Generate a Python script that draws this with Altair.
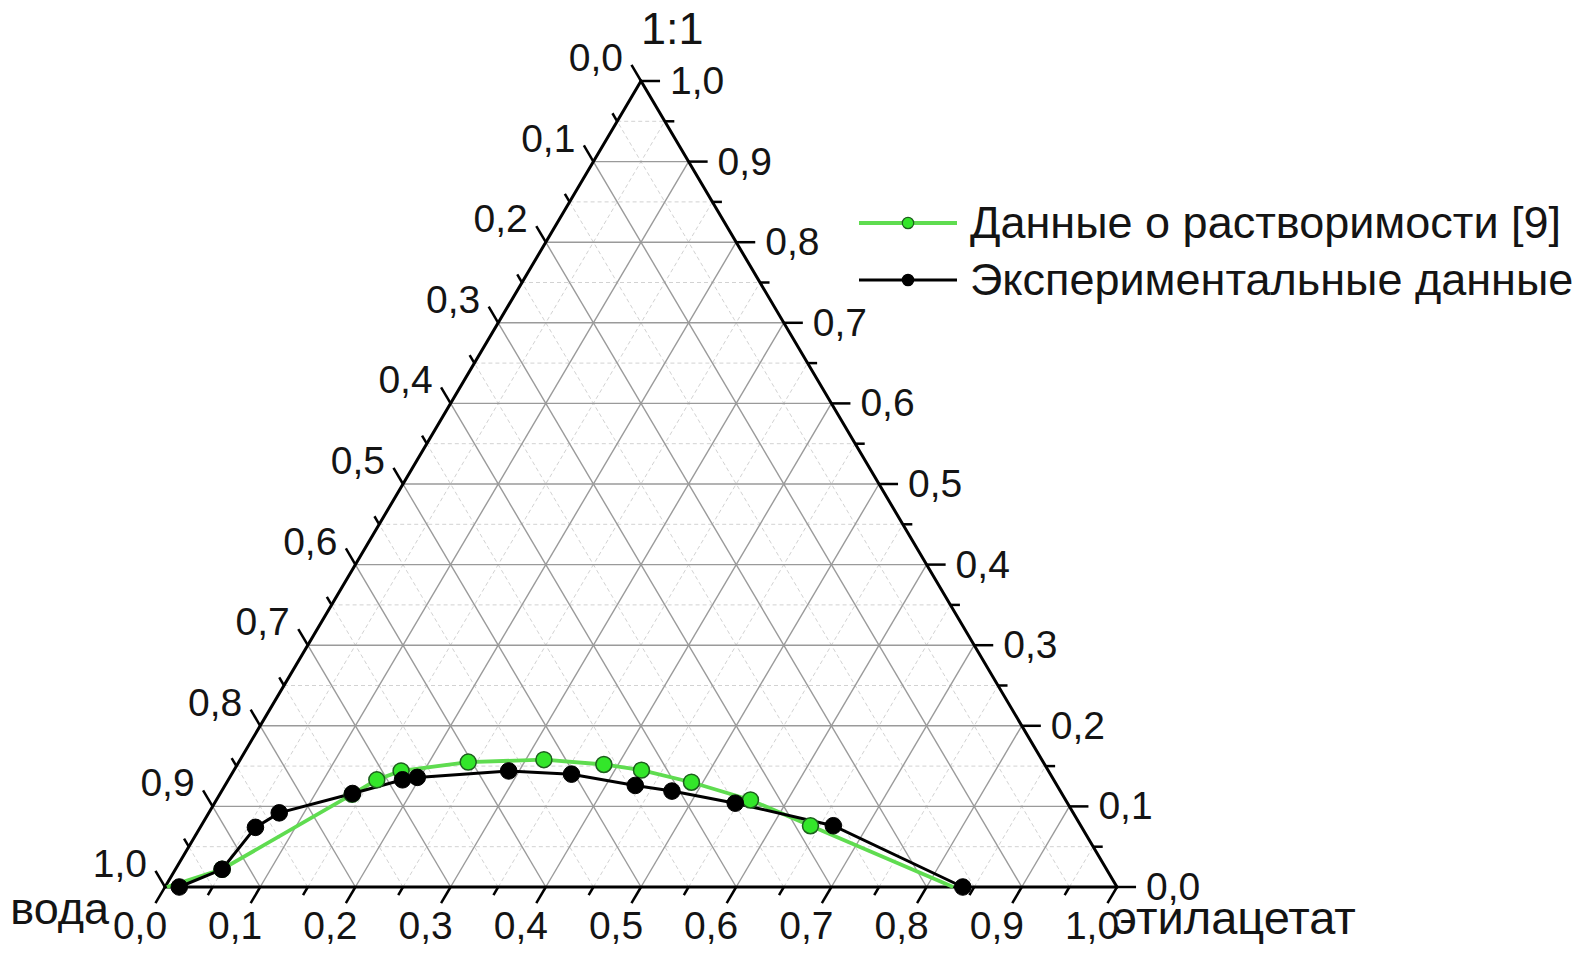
import altair as alt
import pandas as pd

FONT = "Liberation Sans"

# ---- axis ticks ----
major_values = [0.0, 0.1, 0.2, 0.3, 0.4, 0.5, 0.6, 0.7, 0.8, 0.9, 1.0]
major_labels = ["0,0", "0,1", "0,2", "0,3", "0,4", "0,5", "0,6", "0,7", "0,8", "0,9", "1,0"]
minor_values = [0.05, 0.15, 0.25, 0.35, 0.45, 0.55, 0.65, 0.75, 0.85, 0.95]

# ---- data (ternary fractions: ethyl acetate, 1:1 component) ----
green_name = "Данные о растворимости [9]"
green_ea = [0.002, 0.049, 0.139, 0.156, 0.176, 0.241, 0.319, 0.385, 0.428, 0.488, 0.561, 0.640, 0.828]
green_11 = [0.0, 0.022, 0.115, 0.133, 0.144, 0.155, 0.158, 0.152, 0.145, 0.130, 0.108, 0.076, 0.0]

black_name = "Экспериментальные данные"
black_ea = [0.015, 0.049, 0.058, 0.074, 0.139, 0.183, 0.197, 0.289, 0.357, 0.431, 0.473, 0.547, 0.664, 0.838]
black_11 = [0.0, 0.022, 0.074, 0.092, 0.116, 0.133, 0.136, 0.144, 0.140, 0.126, 0.119, 0.104, 0.076, 0.0]

legend_labels = [green_name, black_name]
corner_labels = ["вода", "этилацетат", "1:1"]

# ---- build tables ----
def grid_rows(vals, kind):
    rows = []
    for v in vals:
        if v <= 0 or v >= 1:
            continue
        rows.append(dict(e1=v, t1=0.0, e2=v, t2=1 - v, kind=kind))          # const ethyl acetate
        rows.append(dict(e1=0.0, t1=v, e2=1 - v, t2=v, kind=kind))          # const 1:1
        rows.append(dict(e1=1 - v, t1=0.0, e2=0.0, t2=1 - v, kind=kind))    # const water
    return rows

grid = pd.DataFrame(grid_rows(major_values, "major") + grid_rows(minor_values, "minor"))

edges = pd.DataFrame([
    dict(e1=0.0, t1=0.0, e2=1.0, t2=0.0),
    dict(e1=1.0, t1=0.0, e2=0.0, t2=1.0),
    dict(e1=0.0, t1=1.0, e2=0.0, t2=0.0),
])

def tick_rows(vals, L):
    rows = []
    for v in vals:
        rows.append(dict(e1=v, t1=0.0, e2=v, t2=-L))                       # bottom
        rows.append(dict(e1=1 - v, t1=v, e2=1 - v + L, t2=v))               # right
        rows.append(dict(e1=0.0, t1=1 - v, e2=-L, t2=1 - v + L))            # left
    return rows

ticks = pd.DataFrame(tick_rows(major_values, 0.02) + tick_rows(minor_values, 0.01))

labels = pd.DataFrame({"v": major_values, "lab": major_labels})

green = pd.DataFrame({"e": green_ea, "t": green_11, "i": range(len(green_ea))})
black = pd.DataFrame({"e": black_ea, "t": black_11, "i": range(len(black_ea))})

xs = alt.Scale(domain=[0, 1], nice=False, zero=False)
ys = alt.Scale(domain=[0, 1], nice=False, zero=False)


def seg_chart(df, **mark):
    return (
        alt.Chart(df)
        .transform_calculate(x1="datum.e1 + datum.t1/2", y1="datum.t1",
                             x2="datum.e2 + datum.t2/2", y2="datum.t2")
        .mark_rule(**mark)
        .encode(x=alt.X("x1:Q", scale=xs, axis=None), y=alt.Y("y1:Q", scale=ys, axis=None),
                x2="x2:Q", y2="y2:Q")
    )


minor_grid = seg_chart(grid[grid.kind == "minor"], color="#d2d2d2", strokeWidth=1, strokeDash=[4, 3])
major_grid = seg_chart(grid[grid.kind == "major"], color="#9a9a9a", strokeWidth=1.4)
edge_layer = seg_chart(edges, color="black", strokeWidth=3, strokeCap="round")
tick_layer = seg_chart(ticks, color="black", strokeWidth=2.5)


def series_xy(df):
    return alt.Chart(df).transform_calculate(X="datum.e + datum.t/2", Y="datum.t")


enc = dict(x=alt.X("X:Q", scale=xs, axis=None), y=alt.Y("Y:Q", scale=ys, axis=None))

GREEN_LINE = "#5fdc50"
GREEN_FILL = "#33e62a"
GREEN_EDGE = "#1d5e1d"

green_line = series_xy(green).mark_line(color=GREEN_LINE, strokeWidth=3.8).encode(order="i:Q", **enc)
black_line = series_xy(black).mark_line(color="black", strokeWidth=3).encode(order="i:Q", **enc)
green_pts = (
    series_xy(green).transform_filter("datum.t > 0")
    .mark_point(shape="circle", filled=True, fill=GREEN_FILL, stroke=GREEN_EDGE,
                strokeWidth=1.5, size=255, opacity=1)
    .encode(**enc)
)
black_pts = (
    series_xy(black)
    .mark_point(shape="circle", filled=True, fill="black", stroke="black",
                strokeWidth=1, size=275, opacity=1)
    .encode(**enc)
)

TICK_FS = 39
TXT = "#141414"
bottom_lab = (
    alt.Chart(labels).transform_calculate(X="datum.v", Y="0")
    .mark_text(font=FONT, fontSize=TICK_FS, align="center", baseline="alphabetic", dx=-25, dy=52, color=TXT)
    .encode(text="lab:N", **enc)
)
right_lab = (
    alt.Chart(labels).transform_calculate(X="1 - datum.v/2", Y="datum.v")
    .mark_text(font=FONT, fontSize=TICK_FS, align="left", baseline="middle", dx=29, dy=1, color=TXT)
    .encode(text="lab:N", **enc)
)
left_lab = (
    alt.Chart(labels).transform_calculate(X="(1 - datum.v)/2", Y="1 - datum.v")
    .mark_text(font=FONT, fontSize=TICK_FS, align="right", baseline="alphabetic", dx=-18, dy=-10, color=TXT)
    .encode(text="lab:N", **enc)
)

corners = pd.DataFrame({"name": corner_labels, "X": [0.0, 1.0, 0.5], "Y": [0.0, 0.0, 1.0]})
TITLE_FS = 45
water_lab = (
    alt.Chart(corners[corners.name == corner_labels[0]])
    .mark_text(font=FONT, fontSize=TITLE_FS, align="right", baseline="alphabetic", dx=-56, dy=37, color=TXT)
    .encode(text="name:N", **enc)
)
ea_lab = (
    alt.Chart(corners[corners.name == corner_labels[1]])
    .mark_text(font=FONT, fontSize=47, align="left", baseline="alphabetic", dx=-4, dy=47, color=TXT)
    .encode(text="name:N", **enc)
)
top_lab = (
    alt.Chart(corners[corners.name == corner_labels[2]])
    .mark_text(font=FONT, fontSize=TITLE_FS, align="left", baseline="alphabetic", dx=0, dy=-37, color=TXT)
    .encode(text="name:N", **enc)
)

# ---- manual legend (pixel positions inside plot area) ----
LEG_FS = 45
leg1 = pd.DataFrame({"label": [legend_labels[0]]})
leg2 = pd.DataFrame({"label": [legend_labels[1]]})
legend_layers = []
for df, lc, fc, sc, lw, yy in [(leg1, GREEN_LINE, GREEN_FILL, GREEN_EDGE, 3.8, 142),
                               (leg2, "black", "black", "black", 3, 199)]:
    legend_layers.append(alt.Chart(df).mark_rule(color=lc, strokeWidth=lw).encode(
        x=alt.value(694), x2=alt.value(792), y=alt.value(yy)))
    legend_layers.append(alt.Chart(df).mark_point(shape="circle", filled=True, fill=fc, stroke=sc,
                                                  strokeWidth=1.2, size=130, opacity=1).encode(
        x=alt.value(743), y=alt.value(yy)))
    legend_layers.append(alt.Chart(df).mark_text(font=FONT, fontSize=LEG_FS, align="left",
                                                 baseline="middle", dy=1, color=TXT).encode(
        x=alt.value(805), y=alt.value(yy), text="label:N"))

chart = (
    alt.layer(minor_grid, major_grid, edge_layer, tick_layer,
              green_line, black_line, green_pts, black_pts,
              bottom_lab, right_lab, left_lab, water_lab, ea_lab, top_lab,
              *legend_layers)
    .properties(width=952, height=806,
                padding={"left": 157, "top": 73, "right": 455, "bottom": 58},
                autosize=alt.AutoSizeParams(type="none"))
    .configure_view(stroke=None)
)

chart.save("out.html", embed_options={"renderer": "svg", "actions": False})
